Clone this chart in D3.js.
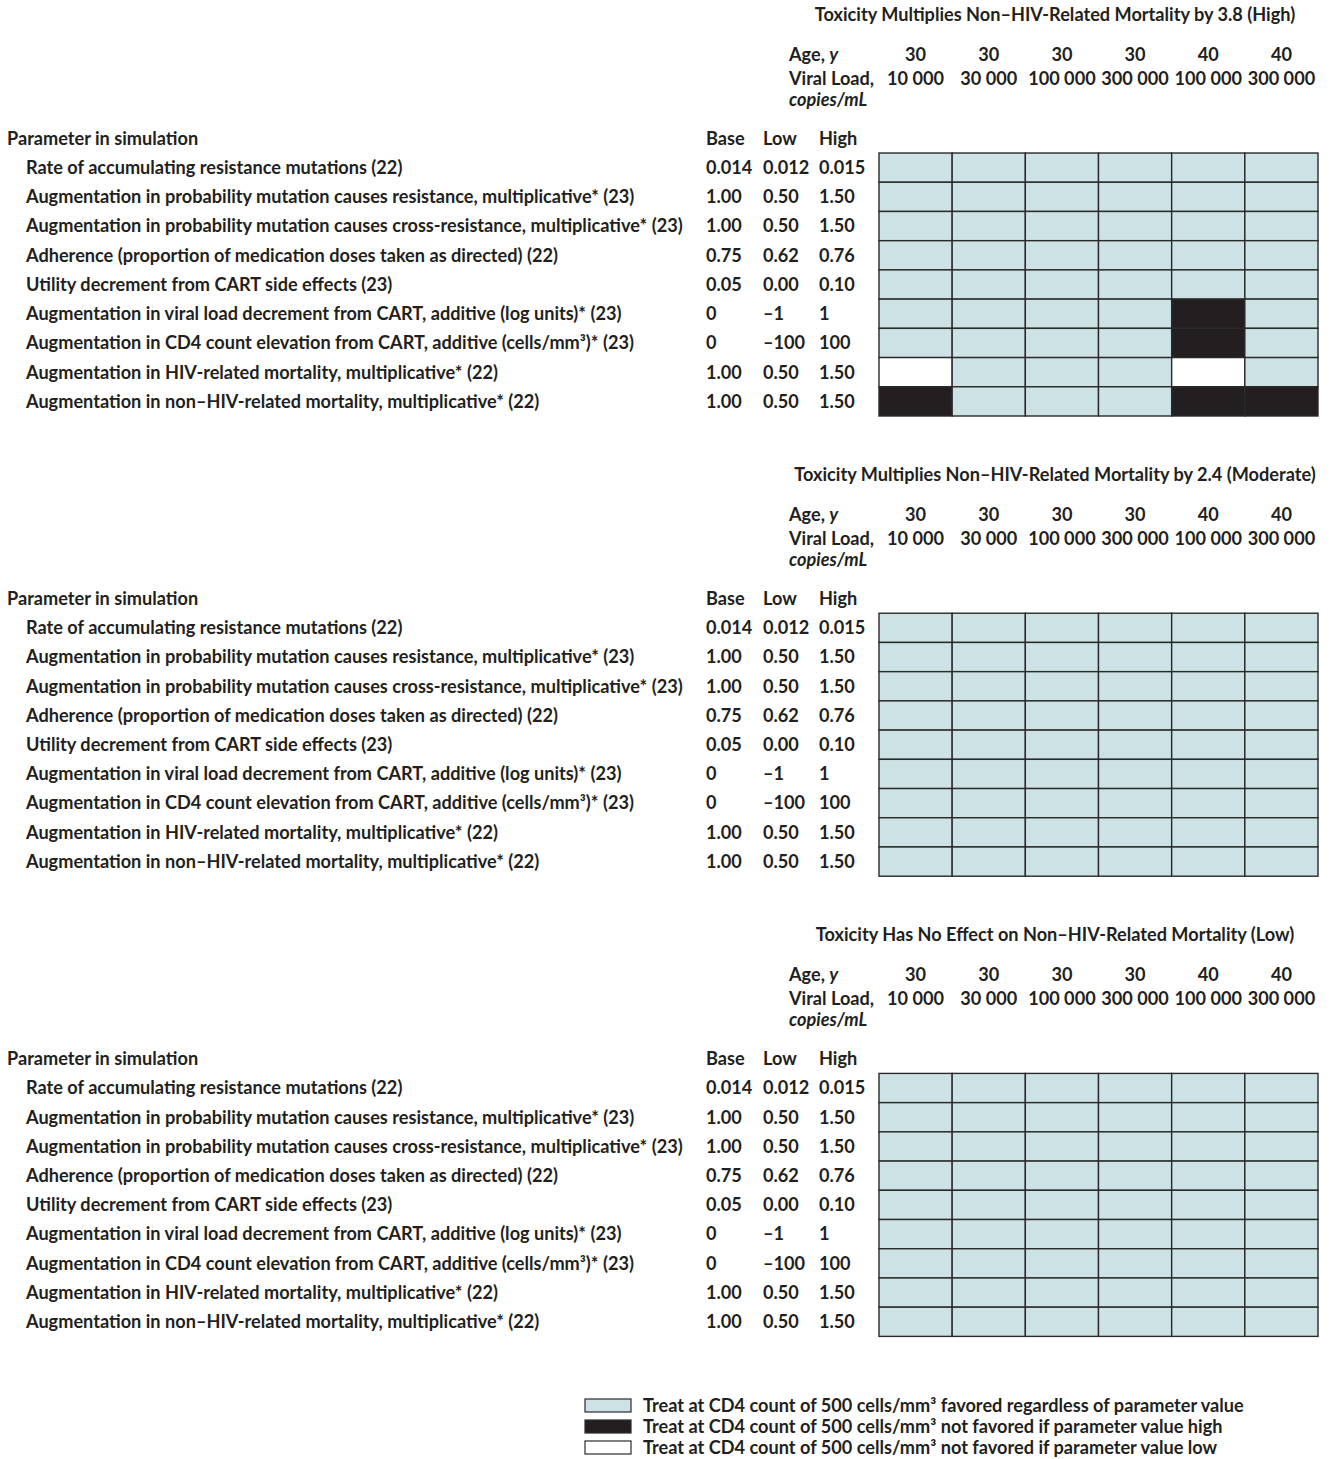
<!DOCTYPE html>
<html>
<head>
<meta charset="utf-8">
<script src="https://cdn.jsdelivr.net/npm/d3@7"></script>
<style>
  body { margin: 0; background: #fff; }
  svg text { font-family: Lato, "Open Sans", sans-serif; font-weight: 700; fill: #231f20; }
</style>
</head>
<body>
<svg id="chart" width="1334" height="1459"></svg>
<script>
const panelTitles = [
  "Toxicity Multiplies Non\u2013HIV-Related Mortality by 3.8 (High)",
  "Toxicity Multiplies Non\u2013HIV-Related Mortality by 2.4 (Moderate)",
  "Toxicity Has No Effect on Non\u2013HIV-Related Mortality (Low)"
];
const ages = ["30", "30", "30", "30", "40", "40"];
const viralLoads = ["10 000", "30 000", "100 000", "300 000", "100 000", "300 000"];
const valueCols = ["Base", "Low", "High"];
const paramLabels = [
  "Rate of accumulating resistance mutations (22)",
  "Augmentation in probability mutation causes resistance, multiplicative* (23)",
  "Augmentation in probability mutation causes cross-resistance, multiplicative* (23)",
  "Adherence (proportion of medication doses taken as directed) (22)",
  "Utility decrement from CART side effects (23)",
  "Augmentation in viral load decrement from CART, additive (log units)* (23)",
  "Augmentation in CD4 count elevation from CART, additive (cells/mm\u00b3)* (23)",
  "Augmentation in HIV-related mortality, multiplicative* (22)",
  "Augmentation in non\u2013HIV-related mortality, multiplicative* (22)"
];
const baseVals = ["0.014", "1.00", "1.00", "0.75", "0.05", "0", "0", "1.00", "1.00"];
const lowVals  = ["0.012", "0.50", "0.50", "0.62", "0.00", "\u20131", "\u2013100", "0.50", "0.50"];
const highVals = ["0.015", "1.50", "1.50", "0.76", "0.10", "1", "100", "1.50", "1.50"];

// 0 = favored regardless, 1 = not favored if high, 2 = not favored if low
const cellsHigh = [
  [0, 0, 0, 0, 0, 0],
  [0, 0, 0, 0, 0, 0],
  [0, 0, 0, 0, 0, 0],
  [0, 0, 0, 0, 0, 0],
  [0, 0, 0, 0, 0, 0],
  [0, 0, 0, 0, 1, 0],
  [0, 0, 0, 0, 1, 0],
  [2, 0, 0, 0, 2, 0],
  [1, 0, 0, 0, 1, 1]
];
const cellsModerate = [
  [0, 0, 0, 0, 0, 0], [0, 0, 0, 0, 0, 0], [0, 0, 0, 0, 0, 0],
  [0, 0, 0, 0, 0, 0], [0, 0, 0, 0, 0, 0], [0, 0, 0, 0, 0, 0],
  [0, 0, 0, 0, 0, 0], [0, 0, 0, 0, 0, 0], [0, 0, 0, 0, 0, 0]
];
const cellsLow = [
  [0, 0, 0, 0, 0, 0], [0, 0, 0, 0, 0, 0], [0, 0, 0, 0, 0, 0],
  [0, 0, 0, 0, 0, 0], [0, 0, 0, 0, 0, 0], [0, 0, 0, 0, 0, 0],
  [0, 0, 0, 0, 0, 0], [0, 0, 0, 0, 0, 0], [0, 0, 0, 0, 0, 0]
];
const panelCells = [cellsHigh, cellsModerate, cellsLow];

const legendCodes = [0, 1, 2];
const legendLabels = [
  "Treat at CD4 count of 500 cells/mm\u00b3 favored regardless of parameter value",
  "Treat at CD4 count of 500 cells/mm\u00b3 not favored if parameter value high",
  "Treat at CD4 count of 500 cells/mm\u00b3 not favored if parameter value low"
];

const svg = d3.select('#chart');
const root = svg.append('g').style('font-size', '16px');

const x = d3.scaleBand().domain(d3.range(6)).range([879, 1318]);
const y = d3.scaleBand().domain(d3.range(-1, 9)).range([-29.2, 263]);
const valX = d3.scaleOrdinal().domain(valueCols).range([706, 763, 819]);
const fill = d3.scaleOrdinal().domain([0, 1, 2]).range(['#cde2e5', '#231f20', '#ffffff']);
const panelY = d3.scaleLinear().domain([0, 2]).range([153, 1073.4]);
const rowMid = (i) => y(i) + y.bandwidth() / 2;

panelTitles.forEach((title, p) => {
  const g = root.append('g').attr('transform', `translate(0,${panelY(p)})`);

  g.append('text')
    .attr('x', 1055).attr('y', -132)
    .attr('text-anchor', 'middle')
    .text(title);

  const age = g.append('text').attr('x', 789).attr('y', -92);
  age.append('tspan').text('Age, ');
  age.append('tspan').style('font-style', 'italic').text('y');
  g.append('text').attr('x', 789).attr('y', -68).text('Viral Load,');
  g.append('text').attr('x', 789).attr('y', -47).style('font-style', 'italic').text('copies/mL');

  g.selectAll('text.age')
    .data(ages)
    .join('text')
    .attr('class', 'age')
    .attr('x', (d, i) => x(i) + x.bandwidth() / 2)
    .attr('y', -92)
    .attr('text-anchor', 'middle')
    .text(d => d);

  g.selectAll('text.vl')
    .data(viralLoads)
    .join('text')
    .attr('class', 'vl')
    .attr('x', (d, i) => x(i) + x.bandwidth() / 2)
    .attr('y', -68)
    .attr('text-anchor', 'middle')
    .text(d => d);

  // header row
  g.append('text')
    .attr('x', 7).attr('y', rowMid(-1)).attr('dy', '0.35em')
    .text('Parameter in simulation');
  g.selectAll('text.colhead')
    .data(valueCols)
    .join('text')
    .attr('class', 'colhead')
    .attr('x', d => valX(d)).attr('y', rowMid(-1)).attr('dy', '0.35em')
    .text(d => d);

  g.selectAll('text.param')
    .data(paramLabels)
    .join('text')
    .attr('class', 'param')
    .attr('x', 26)
    .attr('y', (d, i) => rowMid(i)).attr('dy', '0.35em')
    .text(d => d);

  [baseVals, lowVals, highVals].forEach((vals, c) => {
    g.selectAll(`text.val${c}`)
      .data(vals)
      .join('text')
      .attr('class', `val${c}`)
      .attr('x', valX(valueCols[c]))
      .attr('y', (d, i) => rowMid(i)).attr('dy', '0.35em')
      .text(d => d);
  });

  const cells = panelCells[p].flatMap((row, r) => row.map((v, c) => ({r, c, v})));
  g.selectAll('rect.cell')
    .data(cells)
    .join('rect')
    .attr('class', 'cell')
    .attr('x', d => x(d.c))
    .attr('y', d => y(d.r))
    .attr('width', x.bandwidth())
    .attr('height', y.bandwidth())
    .style('fill', d => fill(d.v))
    .style('stroke', '#2a2a2a')
    .style('stroke-width', 1.4);
});

// legend
const ly = d3.scaleBand().domain(legendCodes).range([1395, 1458]);
const legend = root.append('g');
legend.selectAll('rect')
  .data(legendCodes)
  .join('rect')
  .attr('x', 585)
  .attr('y', d => ly(d) + 4)
  .attr('width', 46)
  .attr('height', 13)
  .style('fill', d => fill(d))
  .style('stroke', '#2a2a2a')
  .style('stroke-width', 1.2);
legend.selectAll('text')
  .data(legendCodes)
  .join('text')
  .attr('x', 643)
  .attr('y', d => ly(d) + ly.bandwidth() / 2)
  .attr('dy', '0.35em')
  .text(d => legendLabels[d]);

// fit font size so longest parameter label spans the same width as the original
let longest = 0;
root.selectAll('text.param').each(function () {
  longest = Math.max(longest, this.getComputedTextLength());
});
root.style('font-size', (16 * 657 / longest) + 'px');
</script>
</body>
</html>
